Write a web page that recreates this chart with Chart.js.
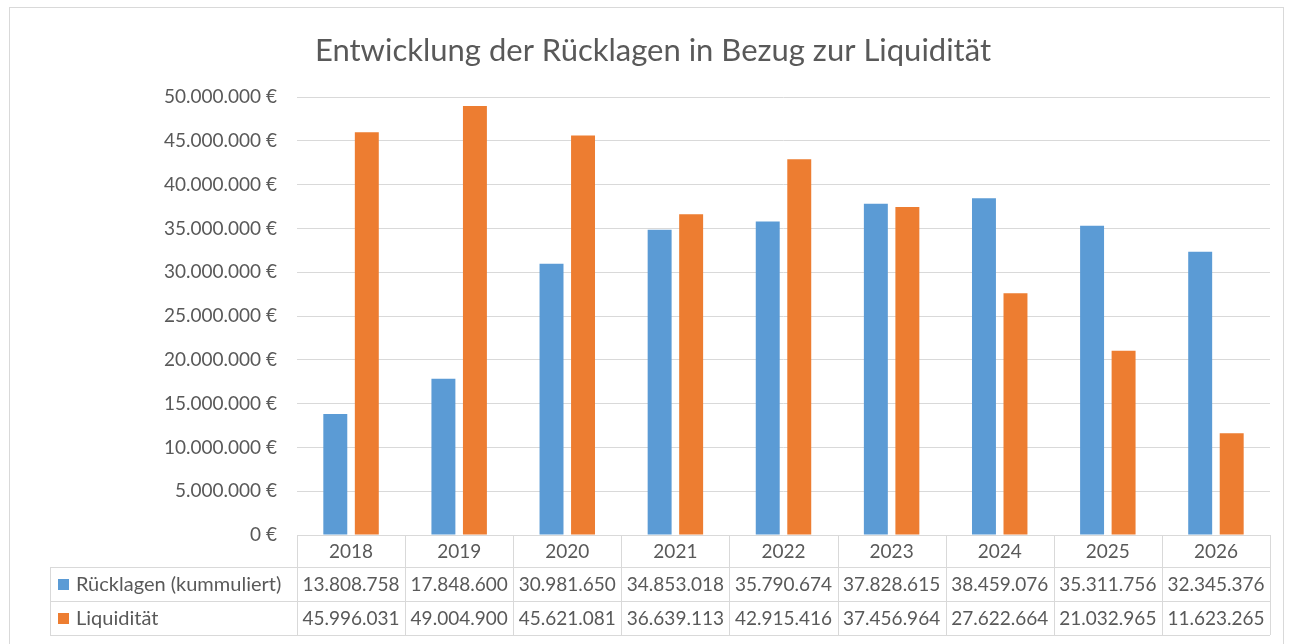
<!DOCTYPE html>
<html>
<head>
<meta charset="utf-8">
<script src="https://cdn.jsdelivr.net/npm/chart.js@4.4.1/dist/chart.umd.min.js"></script>
<style>
  html, body { margin: 0; padding: 0; background: #fff; }
</style>
</head>
<body>
<canvas id="chart" width="1293" height="644"></canvas>
<script>
// Daten (aus der Tabelle unter dem Diagramm)
const years = ['2018', '2019', '2020', '2021', '2022', '2023', '2024', '2025', '2026'];
const ruecklagen = [13808758, 17848600, 30981650, 34853018, 35790674, 37828615, 38459076, 35311756, 32345376];
const liquiditaet = [45996031, 49004900, 45621081, 36639113, 42915416, 37456964, 27622664, 21032965, 11623265];
const seriesNames = ['Rücklagen (kummuliert)', 'Liquidität'];

const COLORS = {
  blue:   '#5b9bd5',
  orange: '#ed7d31',
  text:   '#595959',
  grid:   '#d9d9d9'
};
const FONT = 'Lato';

// Tausenderpunkte wie in Excel (de-DE)
function fmt(n) {
  return String(Math.round(n)).replace(/\B(?=(\d{3})+(?!\d))/g, '.');
}

// ----------------------------------------------------------
//  Datentabelle + Rahmen unter dem Diagramm
// ----------------------------------------------------------
const tablePlugin = {
  id: 'dataTable',
  afterDraw(chart) {
    const ctx = chart.ctx;
    const area = chart.chartArea;
    const xs = chart.scales.x;
    const colW = (area.right - area.left) / years.length;
    const top = Math.round(area.bottom);
    const rows = [top, top + 32, top + 66, top + 100];
    const legendLeft = 50;
    const L = Math.round(area.left), R = Math.round(area.right);

    ctx.save();
    ctx.strokeStyle = COLORS.grid;
    ctx.lineWidth = 1;
    ctx.beginPath();
    // horizontale Linien
    ctx.moveTo(L, rows[0] + 0.5); ctx.lineTo(R, rows[0] + 0.5);
    for (let i = 1; i < rows.length; i++) {
      ctx.moveTo(legendLeft, rows[i] + 0.5); ctx.lineTo(R, rows[i] + 0.5);
    }
    // vertikale Linien
    ctx.moveTo(legendLeft + 0.5, rows[1]); ctx.lineTo(legendLeft + 0.5, rows[3]);
    for (let i = 0; i <= years.length; i++) {
      const x = Math.round(area.left + i * colW) + 0.5;
      ctx.moveTo(x, rows[0]); ctx.lineTo(x, rows[3]);
    }
    ctx.stroke();

    // Rahmen um das ganze Diagramm
    ctx.strokeRect(9.5, 7.5, 1274, 660);

    ctx.fillStyle = COLORS.text;
    ctx.textBaseline = 'middle';
    ctx.textAlign = 'center';
    ctx.font = '19px ' + FONT;
    years.forEach((y, i) => {
      const cx = xs.getPixelForValue(i);
      ctx.fillText(y, cx, (rows[0] + rows[1]) / 2 + 1);
      ctx.fillText(fmt(ruecklagen[i]), cx, (rows[1] + rows[2]) / 2 + 1);
      ctx.fillText(fmt(liquiditaet[i]), cx, (rows[2] + rows[3]) / 2 + 1);
    });

    // Legenden-Spalte
    const markers = [COLORS.blue, COLORS.orange];
    ctx.textAlign = 'left';
    ctx.font = '20px ' + FONT;
    seriesNames.forEach((name, i) => {
      const cy = (rows[i + 1] + rows[i + 2]) / 2;
      ctx.fillStyle = markers[i];
      ctx.fillRect(58, cy - 5, 11, 11);
      ctx.fillStyle = COLORS.text;
      ctx.fillText(name, 76, cy + 1);
    });
    ctx.restore();
  }
};

new Chart(document.getElementById('chart'), {
  type: 'bar',
  data: {
    labels: years,
    datasets: [
      { label: seriesNames[0], data: ruecklagen,  backgroundColor: COLORS.blue },
      { label: seriesNames[1], data: liquiditaet, backgroundColor: COLORS.orange }
    ]
  },
  options: {
    responsive: false,
    animation: false,
    categoryPercentage: 0.583,
    barPercentage: 0.76,
    layout: { padding: { top: 7, right: 23, bottom: 109, left: 36 } },
    plugins: {
      legend: { display: false },
      tooltip: { enabled: false },
      title: {
        display: true,
        text: 'Entwicklung der Rücklagen in Bezug zur Liquidität',
        color: COLORS.text,
        font: { family: FONT, size: 31, weight: 'normal' },
        padding: { top: 25, bottom: 28 }
      }
    },
    scales: {
      x: { display: false },
      y: {
        min: 0,
        max: 50000000,
        afterFit: s => { s.width = 261; },
        border: { display: false },
        grid: { color: COLORS.grid, drawTicks: false },
        ticks: {
          stepSize: 5000000,
          padding: 20,
          color: COLORS.text,
          font: { family: FONT, size: 19 },
          callback: v => fmt(v) + ' €'
        }
      }
    }
  },
  plugins: [tablePlugin]
});
</script>
</body>
</html>
